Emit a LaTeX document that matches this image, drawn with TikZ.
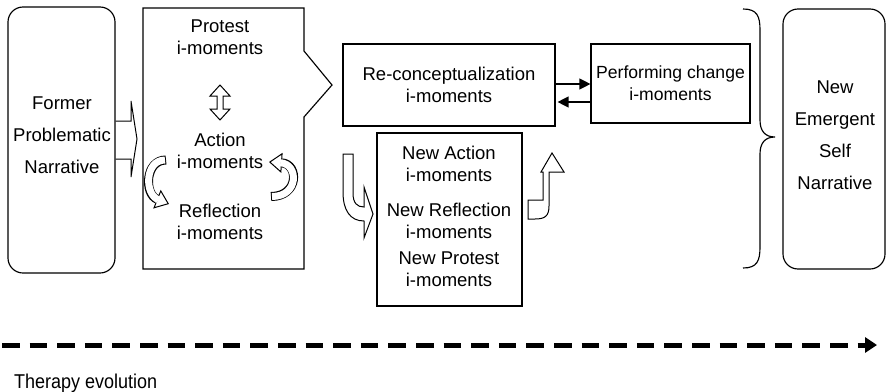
\documentclass[tikz,border=0pt]{standalone}
\usepackage{fontspec}
\usepackage{graphicx}
\setmainfont{Liberation Sans}
\usetikzlibrary{arrows.meta}
\newcommand\mycurvedarrow[1]{%
  \draw[line width=9pt, -{Triangle[length=13pt,width=20pt,fill=white,line width'=1pt]}] #1;
  \draw[white, line width=7pt, shorten <=1pt, shorten >=11.5pt] #1;}
\begin{document}
\begin{tikzpicture}[x=1pt,y=-1pt,
  box/.style={draw, line width=1.15pt, inner sep=0pt, align=center, font=\fontsize{18.5}{22}\selectfont},
  txt/.style={align=center, inner sep=0pt, font=\fontsize{18.5}{22}\selectfont},
  widetxt/.style={txt, font=\fontsize{18.5}{32}\selectfont},
  outl/.style={draw, line width=1pt, fill=white, line join=miter},
  farrow/.style={line width=1.2pt, -{Triangle[length=11pt,width=11pt]}}]
\useasboundingbox (0,0) rectangle (886,391);

% left rounded box
\node[box, rounded corners=15pt, minimum width=107pt, minimum height=266pt] (former) at (61.5,140) {};
\node[widetxt] (formertxt) at (62,135) {Former\\Problematic\\Narrative};

% open arrow into the big box
\draw[outl, fill=none] (115.5,121) -- (131,121) -- (131,101) -- (137,139) -- (131,177) -- (131,159) -- (115.5,159);

% big box with pointed side
\draw[line width=1.15pt] (143,8) -- (304,8) -- (304,51) -- (332,85) -- (304,117) -- (304,269) -- (143,269) -- cycle;
\node[txt] (protest) at (220,37.5) {Protest\\i-moments};
\node[txt] (action) at (220,151) {Action\\i-moments};
\node[txt] (reflection) at (220,222) {Reflection\\i-moments};

% double vertical arrow
\draw[outl] (220,85) -- (230,96) -- (223,96) -- (223,109) -- (230,109) -- (220,120) -- (210,109) -- (217,109) -- (217,96) -- (210,96) -- cycle;

% curved arrows in the big box
\mycurvedarrow{(166,160) .. controls (145,160) and (144,194) .. (169,204)}
\mycurvedarrow{(271,196.5) .. controls (299,196.5) and (299,164) .. (269,162)}

% re-conceptualization and performing change
\node[box, minimum width=212pt, minimum height=82pt] (reconc) at (449,85) {Re-conceptualization\\i-moments};
\node[box, minimum width=159pt, minimum height=79pt, font=\fontsize{17.6}{22}\selectfont] (perf) at (670.5,83.5) {Performing change\\i-moments};
\draw[farrow] ([yshift=1pt]reconc.east) -- ([yshift=1pt]reconc.east -| perf.west);
\draw[farrow] ([yshift=-17pt]reconc.east -| perf.west) -- ([yshift=-17pt,xshift=2pt]reconc.east);

% new i-moments box
\node[box, minimum width=145pt, minimum height=173pt] (newbox) at (449.5,219.5) {};
\node[txt] (newaction) at (449,164) {New Action\\i-moments};
\node[txt] (newreflection) at (449,220.5) {New Reflection\\i-moments};
\node[txt] (newprotest) at (449,269) {New Protest\\i-moments};

% L-shaped open arrows
\draw[outl] (343,154) -- (353,154) -- (353,193) .. controls (353,203) and (357,207) .. (364,207) -- (364,187) -- (373,214) -- (364,238) -- (364,221) .. controls (350,221) and (343,210) .. (343,192) -- cycle;
\draw[outl] (528,200) -- (543,200) -- (543,172) -- (541,172) -- (552,153) -- (564,172) -- (549,172) -- (549,206) .. controls (549,216) and (545,219) .. (535,219) -- (528,219) -- cycle;

% brace
\draw[line width=1.15pt] (743,9) .. controls (757,9) and (760,16) .. (760,30) -- (760,120) .. controls (760,131) and (765,137) .. (775,137) .. controls (765,137) and (760,143) .. (760,154) -- (760,247) .. controls (760,261) and (757,268) .. (743,268);

% new emergent self narrative
\node[box, rounded corners=15pt, minimum width=102pt, minimum height=260pt] (emerg) at (834,139) {};
\node[widetxt] (emergtxt) at (835,135) {New\\Emergent\\Self\\Narrative};

% therapy evolution
\coordinate (tstart) at (2,345);
\coordinate (tend) at (877,345);
\draw[line width=5pt, dash pattern=on 17.5pt off 10.1pt, -{Triangle[length=12pt,width=15pt]}] (tstart) -- (tend);
\node[anchor=base west, inner sep=0pt, font=\fontsize{20}{24}\selectfont] (therapy) at (14,388) {\scalebox{0.9}[1]{Therapy evolution}};
\end{tikzpicture}
\end{document}
